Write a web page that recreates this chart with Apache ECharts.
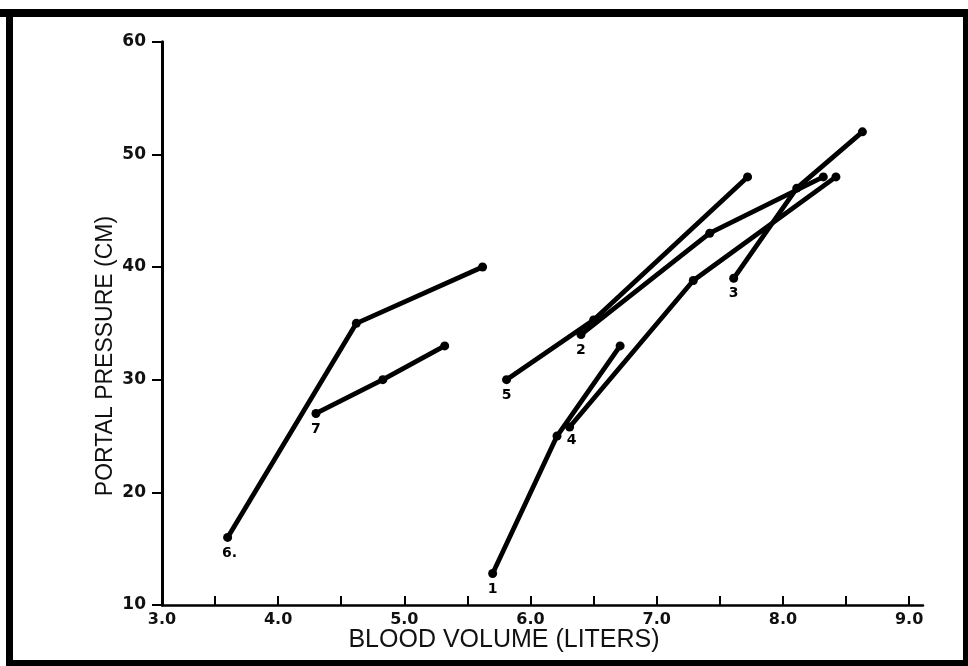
<!DOCTYPE html>
<html>
<head>
<meta charset="utf-8">
<script src="https://cdn.jsdelivr.net/npm/echarts@6/dist/echarts.min.js"></script>
<style>
html,body{margin:0;padding:0;background:#fff;}
#chart{width:968px;height:666px;}
</style>
</head>
<body>
<div id="chart"></div>
<script>
// curve data (blood volume in liters, portal pressure in cm)
var s1x = [5.70, 6.21, 6.71], s1y = [12.8, 25.0, 33.0];
var s2x = [6.40, 7.42, 8.32], s2y = [34.0, 43.0, 48.0];
var s3x = [7.61, 8.11, 8.63], s3y = [39.0, 47.0, 52.0];
var s4x = [6.31, 7.29, 8.42], s4y = [25.8, 38.8, 48.0];
var s5x = [5.81, 6.50, 7.72], s5y = [30.0, 35.3, 48.0];
var s6x = [3.60, 4.62, 5.62], s6y = [16.0, 35.0, 40.0];
var s7x = [4.30, 4.83, 5.32], s7y = [27.0, 30.0, 33.0];
var curveNames = ['1', '2', '3', '4', '5', '6.', '7'];

// axis ticks
var xMin = 3.08, xMax = 9.11;
var xTicks = [3.5, 4.0, 4.5, 5.0, 5.5, 6.0, 6.5, 7.0, 7.5, 8.0, 8.5, 9.0];
var xLabelValues = [3.08, 4.0, 5.0, 6.0, 7.0, 8.0, 9.0];
var xLabels = ['3.0', '4.0', '5.0', '6.0', '7.0', '8.0', '9.0'];

var chart = echarts.init(document.getElementById('chart'));

function makeSeries(name, xs, ys, lab){
	var data = [];
	for (var i = 0; i < xs.length; i++) {
		var item = {value: [xs[i], ys[i]]};
		if (i == 0) {
			item.label = lab;
		}
		data.push(item);
	}
	return {
		name: name,
		type: 'line',
		data: data,
		symbol: 'circle',
		symbolSize: 9,
		lineStyle: {color: '#000', width: 4.8},
		itemStyle: {color: '#000'},
		emphasis: {disabled: true},
		z: 3
	};
}

function lab(txt, off){
	return {
		show: true,
		position: 'bottom',
		distance: 4,
		offset: off || [0, 0],
		formatter: txt,
		color: '#000',
		fontFamily: 'DejaVu Sans',
		fontWeight: 'bold',
		fontSize: 14
	};
}

var option = {
	backgroundColor: '#fff',
	animation: false,
	grid: {left: 162, right: 45, top: 41.7, bottom: 61},
	xAxis: {
		type: 'value',
		min: xMin,
		max: xMax,
		axisLine: {show: true, lineStyle: {color: '#000', width: 2.5}},
		axisTick: {show: true, inside: true, length: 9, customValues: xTicks, lineStyle: {color: '#000', width: 2}},
		axisLabel: {
			customValues: xLabelValues,
			margin: 7,
			color: '#111',
			fontFamily: 'DejaVu Sans',
			fontWeight: 'bold',
			fontSize: 16,
			formatter: function(v){
				var k = xLabelValues.indexOf(v);
				return k >= 0 ? xLabels[k] : '';
			}
		},
		splitLine: {show: false}
	},
	yAxis: {
		type: 'value',
		min: 10,
		max: 60,
		interval: 10,
		axisLine: {show: true, lineStyle: {color: '#000', width: 3}},
		axisTick: {show: true, inside: false, length: 10, lineStyle: {color: '#000', width: 2}},
		axisLabel: {
			margin: 16,
			color: '#111',
			fontFamily: 'DejaVu Sans',
			fontWeight: 'bold',
			fontSize: 17
		},
		splitLine: {show: false}
	},
	graphic: [
		//外框
		{type: 'rect', shape: {x: 0, y: 9, width: 968, height: 8}, style: {fill: '#000'}, silent: true},
		{type: 'rect', shape: {x: 6, y: 9, width: 7, height: 657}, style: {fill: '#000'}, silent: true},
		{type: 'rect', shape: {x: 963, y: 9, width: 5, height: 657}, style: {fill: '#000'}, silent: true},
		{type: 'rect', shape: {x: 6, y: 660, width: 962, height: 6}, style: {fill: '#000'}, silent: true},
		//坐标轴名称
		{
			type: 'text', x: 504, y: 640,
			style: {text: 'BLOOD VOLUME (LITERS)', fill: '#111', font: '25px "Liberation Sans"', textAlign: 'center', textVerticalAlign: 'middle'}
		},
		{
			type: 'text', x: 106, y: 356, rotation: Math.PI / 2,
			style: {text: 'PORTAL PRESSURE (CM)', fill: '#111', font: '23px "Liberation Sans"', textAlign: 'center', textVerticalAlign: 'middle'}
		}
	],
	series: [
		makeSeries(curveNames[0], s1x, s1y, lab(curveNames[0])),
		makeSeries(curveNames[1], s2x, s2y, lab(curveNames[1])),
		makeSeries(curveNames[2], s3x, s3y, lab(curveNames[2])),
		makeSeries(curveNames[3], s4x, s4y, lab(curveNames[3], [2, -2])),
		makeSeries(curveNames[4], s5x, s5y, lab(curveNames[4])),
		makeSeries(curveNames[5], s6x, s6y, lab(curveNames[5], [2, 0])),
		makeSeries(curveNames[6], s7x, s7y, lab(curveNames[6]))
	]
};
chart.setOption(option);
</script>
</body>
</html>
